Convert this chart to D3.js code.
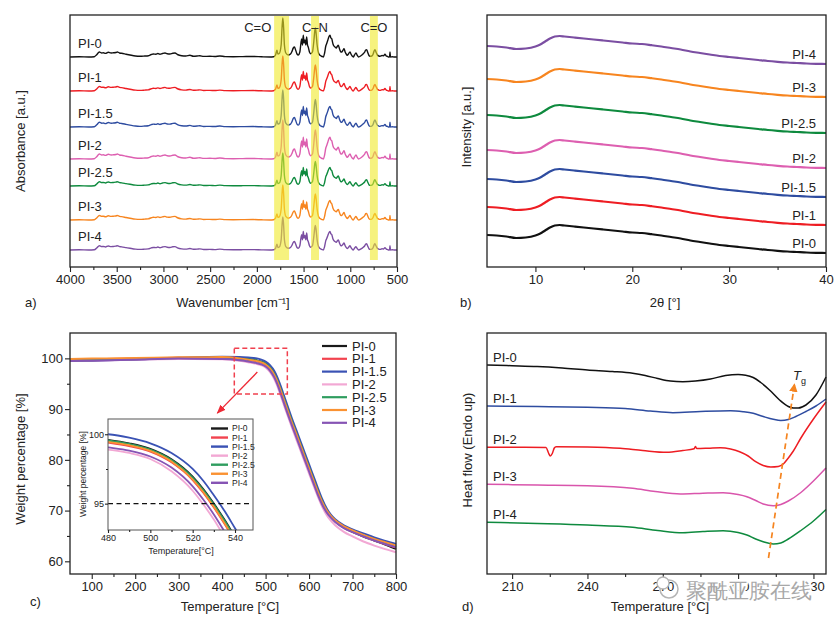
<!DOCTYPE html>
<html><head><meta charset="utf-8">
<script src="https://cdn.jsdelivr.net/npm/d3@7"></script>
<style>body{margin:0;background:#fff}svg{display:block}text{font-family:"Liberation Sans",Arial,sans-serif}</style>
</head><body>
<script>
// ---------------- DATA ----------------
const names7 = ['PI-0','PI-1','PI-1.5','PI-2','PI-2.5','PI-3','PI-4'];
const colors7 = ['#111111','#ee1d23','#2e4ca0','#dd5fb0','#0e8a3e','#f7851f','#7b4ea2'];
// (a) FTIR: shared spectrum profile [wavenumber, absorbance a.u.], per-sample offsets and scale
const ftirProfile = [[4000,0],[3900,0.3],[3800,0],[3740,0.3],[3714,2.3],[3686,5],[3660,4],[3643,4.2],[3620,3.6],[3590,4.7],[3560,4],[3536,4.2],[3510,4.5],[3494,5],[3470,4],[3447,3.7],[3400,2.8],[3358,2],[3300,1],[3251,0.7],[3200,1],[3162,1.3],[3130,2.5],[3108,3],[3080,2.8],[3060,3.5],[3037,2.7],[3010,3.5],[2983,4],[2960,3.2],[2930,3],[2900,3.8],[2876,4],[2850,2.5],[2805,1.3],[2760,1],[2716,1.7],[2680,0.8],[2640,1],[2610,1.3],[2570,0.6],[2503,0.7],[2450,0.5],[2396,1],[2340,0.4],[2253,0.3],[2150,0.4],[2039,0.5],[1950,0.2],[1860,0],[1820,0.3],[1800,2],[1785,6.7],[1775,3],[1760,3.5],[1740,12],[1730,30],[1722,39],[1714,30],[1705,12],[1690,4],[1664,2],[1640,3],[1627,5],[1610,9],[1598,10],[1585,7],[1570,3],[1556,2],[1540,5],[1528,14],[1520,18],[1512,12],[1503,21.7],[1495,14],[1485,17],[1476,12],[1467,20],[1458,12],[1450,10],[1437,5],[1424,3.3],[1405,5],[1390,16],[1380,26],[1374,29],[1366,24],[1355,12],[1340,4],[1324,1.7],[1300,0.5],[1289,0],[1275,4],[1262,11],[1253,13.3],[1240,17],[1230,20],[1217,21.7],[1208,19],[1199,18.3],[1185,13],[1175,11],[1164,10],[1150,9],[1140,10.5],[1128,11.7],[1115,8],[1100,5],[1092,5],[1080,6.5],[1067,8.3],[1055,5],[1040,2.5],[1032,1.7],[1020,3],[1003,5],[990,2.5],[980,1],[968,0],[955,2],[939,4],[925,1.5],[910,0],[890,1],[861,3.3],[845,5],[835,7],[825,7.3],[815,5],[800,1.5],[789,0.7],[770,1],[755,3],[745,6],[736,7.3],[725,5],[710,2],[695,1],[682,0.7],[660,1.5],[645,1.2],[629,2.7],[615,1],[600,0.5],[593,0],[580,0],[575,5],[570,0],[550,0.3],[530,0],[500,0]];
const ftirOffsets = [210,176,140,108,81,47,17];
const ftirScales = [1.0,0.9,0.95,1.0,0.85,0.9,0.85];
const ftirBands = [[1815,1655],[1420,1335],[790,705]];
const ftirBandLabels = [['C=O',1990],['C\u2013N',1378],['C=O',747]];
const ftirTicks = [4000,3500,3000,2500,2000,1500,1000,500];

// (b) XRD: shared profile [2theta, rel. intensity], per-sample offsets
const xrdProfile = [[5,0],[6,-0.5],[7,-1.5],[8,-3],[9,-2.5],[10,-0.5],[10.5,1.5],[11,4.5],[11.5,7.5],[12,9.5],[12.5,10],[13,9.5],[14,8.5],[15,7.5],[16,6.5],[17,5.5],[18,4.5],[19,3.5],[20,2.5],[21,2],[22,0.8],[23,-0.5],[24,-2],[25,-3.5],[26,-5.5],[27,-7],[28,-8.5],[29,-10],[30,-11],[31,-12],[32,-13],[33,-14],[34,-15],[35,-15.8],[36,-16.5],[37,-17],[38,-17.5],[39,-17.8],[40,-18]];
const xrdOffsets = [32,60,88,117,152,188,221];
const xrdTicks = [10,20,30,40];

// (c) TGA
const tgaTemps = [50,100,200,300,400,440,460,480,490,500,510,520,525,530,535,540,545,550,560,570,580,590,600,610,620,630,640,650,660,680,700,725,750,775,800];
const tgaPI0  = [99.7,99.75,99.9,100.05,100.15,100.0,99.85,99.6,99.35,98.95,98.2,96.95,96.05,95.0,93.85,92.6,91.35,90.1,87.7,85.4,83.1,80.8,78.5,76.2,73.9,71.8,70.1,68.9,68.0,66.7,65.8,64.9,64.1,63.3,62.45];
const tgaPI1  = [99.8,99.85,99.95,100.1,100.15,99.95,99.7,99.4,99.15,98.75,97.98,96.7,95.78,94.72,93.55,92.3,91.05,89.8,87.4,85.1,82.8,80.5,78.2,75.9,73.65,71.6,69.95,68.8,67.9,66.65,65.8,64.95,64.15,63.4,62.7];
const tgaPI15 = [99.5,99.55,99.8,100.1,100.3,100.25,100.15,100.0,99.75,99.35,98.65,97.5,96.65,95.6,94.48,93.23,91.98,90.73,88.3,86.0,83.7,81.4,79.1,76.8,74.5,72.3,70.5,69.2,68.3,67.1,66.3,65.5,64.7,64.0,63.4];
const tgaPI2  = [99.55,99.6,99.75,99.9,99.85,99.55,99.25,98.9,98.65,98.22,97.33,95.93,94.95,93.85,92.6,91.35,90.1,88.9,86.5,84.2,81.9,79.6,77.3,75.0,72.8,70.8,69.2,68.0,67.1,65.8,64.9,63.9,63.1,62.4,61.8];
const tgaPI25 = [99.6,99.65,99.85,100.05,100.1,99.95,99.8,99.55,99.3,98.9,98.15,96.88,95.98,94.93,93.78,92.53,91.3,90.05,87.65,85.35,83.05,80.75,78.45,76.15,73.85,71.75,70.05,68.85,67.95,66.75,65.9,65.05,64.3,63.6,62.9];
const tgaPI3  = [99.9,99.95,100.05,100.2,100.25,100.0,99.75,99.45,99.21,98.8,98.03,96.74,95.84,94.77,93.6,92.35,91.1,89.85,87.45,85.2,82.9,80.6,78.3,76.0,73.75,71.7,70.1,68.95,68.1,66.9,66.1,65.2,64.4,63.75,63.1];
const tgaPI4  = [99.5,99.55,99.75,99.95,99.9,99.65,99.4,99.05,98.82,98.4,97.6,96.25,95.3,94.22,93.0,91.75,90.5,89.25,86.9,84.6,82.3,80.0,77.7,75.4,73.15,71.2,69.7,68.6,67.75,66.55,65.75,64.9,64.1,63.4,62.75];
const tgaSeries = [tgaPI0,tgaPI1,tgaPI15,tgaPI2,tgaPI25,tgaPI3,tgaPI4];
const tgaColors = ['#1a1a1a','#f2434f','#3a52b4','#f2a8d4','#2f9d5f','#fa9232','#8654b4'];
const tgaXTicks = [100,200,300,400,500,600,700,800];
const tgaYTicks = [60,70,80,90,100];
const insetXTicks = [480,500,520,540];
const insetYTicks = [95,100];
const zoomBox = [428,550,93,102];
const t95 = 95;

// (d) DSC [T, heat flow a.u.]
const dscPI0 = [[200,209],[210,208.3],[220,207.5],[230,206],[240,204],[250,202.5],[258,200.7],[263,198.5],[268,195.5],[273,193],[278,192.3],[283,193],[289,195],[295,198.5],[300,199.5],[303,198.8],[306,196.5],[309,191.5],[312.5,184],[316.5,174],[320,167.5],[322,166],[324,166],[327,169],[331,179],[335,197]];
const dscPI1 = [[200,168],[220,167.5],[240,166.7],[255,165.5],[265,163],[274,161.3],[285,162.5],[297,163.3],[302,162.3],[306,160.7],[310,157.5],[314,154.7],[317,153.5],[320,154.5],[323,157.5],[327,162.5],[331,168],[335,175]];
const dscPI2 = [[200,126.7],[215,126.7],[223.5,126.5],[224.5,121],[225.2,118],[226,120.5],[226.8,126],[227.5,127.3],[240,127],[253,125.7],[262,123.5],[271.5,121.7],[278,123.5],[282.5,125.3],[283,127.5],[283.5,125.5],[288,125.8],[293,126.3],[297,125],[300.6,122.3],[304,118],[307,112.3],[310,108.5],[313,107],[316,107.5],[318,110],[320,116],[322,123],[325,136],[330,155],[335,172]];
const dscPI3 = [[200,89.7],[220,89],[240,88.3],[258,85.7],[267,82.5],[277,80],[286,80.8],[294,81.3],[300,79.5],[303.5,77.3],[307,73.5],[310,70],[314,68.3],[317,69.5],[320,73],[325,81.5],[330,93],[335,106]];
const dscPI4 = [[200,51.7],[220,50.5],[240,49],[258,46.7],[268,43.5],[278,41.3],[286,42.5],[294,43.3],[300,41.5],[303.5,39],[307,35],[310,32.3],[314,30],[317,31],[320,35],[325,43.5],[330,53],[335,64.5]];
const dscSeries = [dscPI0,dscPI1,dscPI2,dscPI3,dscPI4];
const dscNames = ['PI-0','PI-1','PI-2','PI-3','PI-4'];
const dscColors = ['#111111','#2e4ca0','#ee1d23','#d955ac','#0e8a3e'];
const dscTicks = [210,240,270,300,330];
const tgArrow = [[312.1,16],[322.4,189]];

// ---------------- DRAW ----------------
const svg = d3.select('body').append('svg').attr('width',840).attr('height',629);
svg.append('rect').attr('width',840).attr('height',629).attr('fill','#fff');
const FS = 13, AX = '#222';

function styleAxis(g, fs){
  g.select('.domain').remove();
  g.selectAll('line').attr('stroke',AX).attr('stroke-width',1.1);
  g.selectAll('text').attr('font-size',fs||FS).attr('fill','#222').attr('font-family','"Liberation Sans",Arial,sans-serif');
}
function xAxis(g, sc, y, majors, minors, fs, tsz){
  const a = g.append('g').attr('transform',`translate(0,${y})`)
    .call(d3.axisBottom(sc).tickValues(majors).tickSize(tsz||5).tickPadding(3).tickFormat(d3.format('d')));
  styleAxis(a, fs);
  const m = g.append('g').attr('transform',`translate(0,${y})`)
    .call(d3.axisBottom(sc).tickValues(minors).tickSize((tsz||5)*0.6).tickFormat(''));
  styleAxis(m);
}
function frame(g,x0,y0,x1,y1){
  g.append('rect').attr('x',x0).attr('y',y0).attr('width',x1-x0).attr('height',y1-y0)
   .attr('fill','none').attr('stroke',AX).attr('stroke-width',1.3);
}
function txt(g,x,y,s,opt){
  opt=opt||{};
  const t=g.append('text').attr('x',x).attr('y',y).attr('font-size',opt.fs||FS).attr('fill',opt.fill||'#222')
    .attr('text-anchor',opt.anchor||'start').attr('dy',opt.dy||'0.35em').text(s);
  if(opt.rot) t.attr('transform',`rotate(-90,${x},${y})`).attr('text-anchor','middle');
  return t;
}

// ===== (a) FTIR =====
{
  const g = svg.append('g');
  const x = d3.scaleLinear().domain([4000,500]).range([70,397]);
  const y = d3.scaleLinear().domain([0,252]).range([267,15]);
  const line = d3.line().x(d=>x(d[0])).y(d=>y(d[1])).curve(d3.curveMonotoneX);
  names7.forEach((n,i)=>{
    g.append('path').datum(ftirProfile.map(p=>[p[0],ftirOffsets[i]+p[1]*ftirScales[i]]))
      .attr('d',line).attr('fill','none').attr('stroke',colors7[i]).attr('stroke-width',1.4).attr('stroke-linejoin','round');
    txt(g,78,y(ftirOffsets[i])-14,n);
  });
  ftirBands.forEach(b=>{
    g.append('rect').attr('x',x(b[0])).attr('width',x(b[1])-x(b[0])).attr('y',y(251)).attr('height',y(7)-y(251))
      .attr('fill','rgb(240,234,40)').attr('opacity',0.6);
  });
  ftirBandLabels.forEach(l=>txt(g,x(l[1]),27,l[0],{anchor:'middle'}));
  frame(g,70,15,397,267);
  xAxis(g,x,267,ftirTicks,d3.range(3750,500,-500),FS);
  txt(g,20,141,'Absorbance [a.u.]',{rot:true});
  txt(g,233,302,'Wavenumber [cm\u207B\u00B9]',{anchor:'middle'});
  txt(g,25,302,'a)');
}

// ===== (b) XRD =====
{
  const g = svg.append('g');
  const x = d3.scaleLinear().domain([5,40]).range([487,826]);
  const y = d3.scaleLinear().domain([0,252]).range([267,15]);
  const line = d3.line().x(d=>x(d[0])).y(d=>y(d[1])).curve(d3.curveMonotoneX);
  names7.forEach((n,i)=>{
    const pts = xrdProfile.map(p=>[p[0],xrdOffsets[i]+p[1]]);
    g.append('path').datum(pts).attr('d',line).attr('fill','none').attr('stroke',colors7[i]).attr('stroke-width',2.2);
    txt(g,816,y(pts[pts.length-1][1])-10,n,{anchor:'end'});
  });
  frame(g,487,15,826,267);
  xAxis(g,x,267,xrdTicks,[15,25,35],FS);
  txt(g,466,127,'Intensity [a.u.]',{rot:true});
  txt(g,665,302,'2\u03B8 [\u00B0]',{anchor:'middle'});
  txt(g,460,302,'b)');
}

// ===== (c) TGA =====
{
  const g = svg.append('g');
  const x = d3.scaleLinear().domain([50,800]).range([70,396]);
  const y = d3.scaleLinear().domain([57.5,105]).range([574,333]);
  const line = d3.line().x((d,i)=>x(tgaTemps[i])).y(d=>y(d)).curve(d3.curveMonotoneX);
  tgaSeries.forEach((s,i)=>{
    g.append('path').datum(s).attr('d',line).attr('fill','none').attr('stroke',tgaColors[i]).attr('stroke-width',2);
  });
  // zoom box + arrow
  g.append('rect').attr('x',x(zoomBox[0])).attr('y',y(zoomBox[3])).attr('width',x(zoomBox[1])-x(zoomBox[0]))
    .attr('height',y(zoomBox[2])-y(zoomBox[3])).attr('fill','none').attr('stroke','#f0404e').attr('stroke-width',1.5).attr('stroke-dasharray','5,3');
  const defs = svg.append('defs');
  defs.append('marker').attr('id','arR').attr('viewBox','0 0 10 10').attr('refX',9).attr('refY',5)
    .attr('markerWidth',7).attr('markerHeight',7).attr('orient','auto')
    .append('path').attr('d','M0,1L10,5L0,9z').attr('fill','#ee2a36');
  g.append('line').attr('x1',x(481)).attr('y1',y(97.3)).attr('x2',x(389)).attr('y2',y(89.2))
    .attr('stroke','#ee2a36').attr('stroke-width',1.3).attr('marker-end','url(#arR)');
  // legend
  names7.forEach((n,i)=>{
    const yy = 346 + i*12.8;
    g.append('line').attr('x1',322).attr('x2',347).attr('y1',yy).attr('y2',yy).attr('stroke',tgaColors[i]).attr('stroke-width',2.2);
    txt(g,352,yy,n);
  });
  frame(g,70,333,396,574);
  xAxis(g,x,574,tgaXTicks,[150,250,350,450,550,650,750],FS);
  const ya = g.append('g').attr('transform','translate(70,0)').call(d3.axisLeft(y).tickValues(tgaYTicks).tickSize(5).tickPadding(2));
  styleAxis(ya);
  styleAxis(g.append('g').attr('transform','translate(70,0)').call(d3.axisLeft(y).tickValues([65,75,85,95]).tickSize(3).tickFormat('')));
  txt(g,20,459,'Weight percentage [%]',{rot:true});
  txt(g,230,606,'Temperature [\u00B0C]',{anchor:'middle'});
  txt(g,30,601,'c)');

  // inset
  const ix = d3.scaleLinear().domain([480,548.5]).range([108,253]);
  const iy = d3.scaleLinear().domain([93.1,101.1]).range([530,419]);
  const ig = g.append('g');
  ig.append('rect').attr('x',108).attr('y',419).attr('width',145).attr('height',111).attr('fill','#fff');
  ig.append('clipPath').attr('id','insClip').append('rect').attr('x',108).attr('y',419).attr('width',145).attr('height',111);
  const il = d3.line().x((d,i)=>ix(tgaTemps[i])).y(d=>iy(d)).curve(d3.curveMonotoneX);
  const cg = ig.append('g').attr('clip-path','url(#insClip)');
  tgaSeries.forEach((s,i)=>{
    cg.append('path').datum(s).attr('d',il).attr('fill','none').attr('stroke',tgaColors[i]).attr('stroke-width',1.8);
  });
  ig.append('line').attr('x1',ix(480)).attr('x2',ix(547)).attr('y1',iy(t95)).attr('y2',iy(t95))
    .attr('stroke','#111').attr('stroke-width',1.2).attr('stroke-dasharray','5,3.5');
  names7.forEach((n,i)=>{
    const yy = 428.5 + i*9.05;
    ig.append('line').attr('x1',211).attr('x2',228).attr('y1',yy).attr('y2',yy).attr('stroke',tgaColors[i]).attr('stroke-width',2.4);
    txt(ig,232,yy,n,{fs:8.5});
  });
  ig.append('rect').attr('x',108).attr('y',419).attr('width',145).attr('height',111).attr('fill','none').attr('stroke','#555').attr('stroke-width',1);
  const ixa = ig.append('g').attr('transform','translate(0,530)').call(d3.axisBottom(ix).tickValues(insetXTicks).tickSize(3).tickPadding(2));
  styleAxis(ixa,9);
  styleAxis(ig.append('g').attr('transform','translate(0,530)').call(d3.axisBottom(ix).tickValues([490,510,530]).tickSize(2).tickFormat('')));
  const iya = ig.append('g').attr('transform','translate(108,0)').call(d3.axisLeft(iy).tickValues(insetYTicks).tickSize(3).tickPadding(1));
  styleAxis(iya,9);
  styleAxis(ig.append('g').attr('transform','translate(108,0)').call(d3.axisLeft(iy).tickValues([97.5]).tickSize(2).tickFormat('')));
  txt(ig,83,474,'Weight percentage [%]',{rot:true,fs:8.5});
  txt(ig,181,551,'Temperature[\u00B0C]',{anchor:'middle',fs:9});
}

// ===== (d) DSC =====
{
  const g = svg.append('g');
  const x = d3.scaleLinear().domain([200,335]).range([487,826]);
  const y = d3.scaleLinear().domain([0,241]).range([574,333]);
  const line = d3.line().x(d=>x(d[0])).y(d=>y(d[1])).curve(d3.curveMonotoneX);
  dscSeries.forEach((s,i)=>{
    g.append('path').datum(s).attr('d',line).attr('fill','none').attr('stroke',dscColors[i]).attr('stroke-width',1.5);
    txt(g,493,y(s[0][1])-8,dscNames[i]);
  });
  const defs = svg.select('defs');
  defs.append('marker').attr('id','arO').attr('viewBox','0 0 10 10').attr('refX',8).attr('refY',5)
    .attr('markerWidth',5).attr('markerHeight',5).attr('orient','auto')
    .append('path').attr('d','M0,0L10,5L0,10z').attr('fill','#f5841f');
  g.append('line').attr('x1',x(tgArrow[0][0])).attr('y1',y(tgArrow[0][1])).attr('x2',x(tgArrow[1][0])).attr('y2',y(tgArrow[1][1]))
    .attr('stroke','#f5841f').attr('stroke-width',1.7).attr('stroke-dasharray','6,4').attr('marker-end','url(#arO)');
  const tg = g.append('text').attr('x',793).attr('y',380).attr('font-size',13).attr('fill','#222');
  tg.append('tspan').attr('font-style','italic').text('T');
  tg.append('tspan').attr('font-size',9).attr('dy',4).text('g');
  frame(g,487,333,826,574);
  xAxis(g,x,574,dscTicks,[225,255,285,315],FS);
  txt(g,467,450,'Heat flow (Endo up)',{rot:true});
  txt(g,660,606,'Temperature [\u00B0C]',{anchor:'middle'});
  txt(g,462,606,'d)');
  // watermark
  const wm = g.append('g');
  wm.append('circle').attr('cx',669).attr('cy',589).attr('r',9).attr('fill','none').attr('stroke','#b5b5b5').attr('stroke-width',1.5);
  wm.append('circle').attr('cx',663).attr('cy',583).attr('r',6).attr('fill','#fff').attr('stroke','#b5b5b5').attr('stroke-width',1.3);
  wm.append('text').attr('x',686).attr('y',598).attr('font-size',21).attr('font-family','"Noto Sans CJK SC",sans-serif')
    .attr('fill','#a8a8a8').attr('stroke','#fff').attr('stroke-width',3).attr('paint-order','stroke').text('聚酰亚胺在线');
}
</script>
</body></html>
